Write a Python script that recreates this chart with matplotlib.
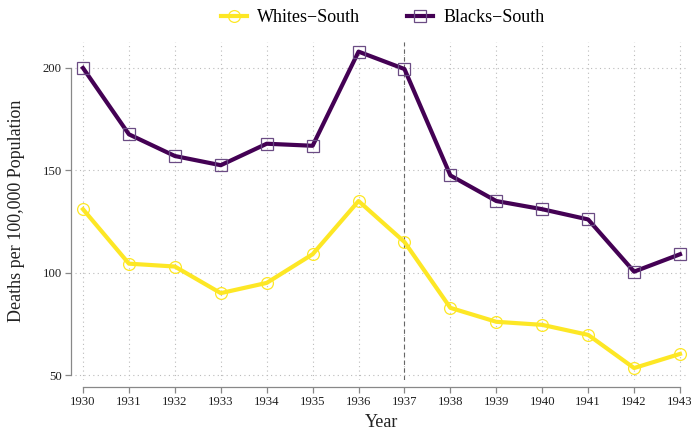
import matplotlib
matplotlib.use("Agg")
import matplotlib.pyplot as plt

plt.rcParams['font.family'] = ['Liberation Serif', 'DejaVu Serif']

years = list(range(1930, 1944))
whites_south = [131, 104.4, 103, 90, 95, 109, 135, 115, 82.8, 76, 74.5, 69.6, 53.4, 60.3]
blacks_south = [200, 167.6, 157, 152.5, 163, 162, 208, 199.5, 147.5, 135, 131, 126, 100.5, 109]
y_ticks = [50, 100, 150, 200]

fig = plt.figure(figsize=(6.91, 4.36), dpi=100)
ax = fig.add_axes([75/691, (436-380)/436, (688-75)/691, (380-42)/436])

ax.plot(years, whites_south, color='#FDE725', lw=3.0, marker='o', ms=8.5,
        mfc='none', mec='#FDE725', mew=0.9, label='Whites\u2212South', zorder=3)
ax.plot(years, blacks_south, color='#440154', lw=3.0, marker='s', ms=8.5,
        mfc='none', mec='#6b4c84', mew=0.9, label='Blacks\u2212South', zorder=3)

ax.axvline(1937, color='#666666', ls=(0, (4, 3)), lw=0.8, zorder=2)

ax.set_xlim(1930 - 8/45.92, 1943 + 8/45.92)
ax.set_ylim(50 - 5/2.0467, 200 + 26/2.0467)
ax.set_xticks(years)
ax.set_yticks(y_ticks)
ax.grid(True, color='#bbbbbb', ls=(0, (1, 3)), lw=0.8)

for s in ['top', 'right']:
    ax.spines[s].set_visible(False)
ax.spines['left'].set_position(('outward', 3))
ax.spines['bottom'].set_position(('outward', 5))
ax.spines['left'].set_bounds(50, 200)
ax.spines['bottom'].set_bounds(1930, 1943)
for s in ['left', 'bottom']:
    ax.spines[s].set_color('#888888')
    ax.spines[s].set_linewidth(0.9)
ax.tick_params(colors='#888888', labelcolor='#222222', labelsize=9.2, length=4, width=0.9, pad=2.5)

ax.set_xlabel('Year', fontsize=13, color='#222222')
ax.set_ylabel('Deaths per 100,000 Population', fontsize=13, color='#222222')
ax.yaxis.set_label_coords(-0.082, 0.5)

fig.legend(loc='center', bbox_to_anchor=(383/691, 1 - 18/436), ncol=2, frameon=False,
           fontsize=13, handlelength=1.4, handletextpad=0.6, columnspacing=2.6)

fig.savefig('out.png', dpi=100)
